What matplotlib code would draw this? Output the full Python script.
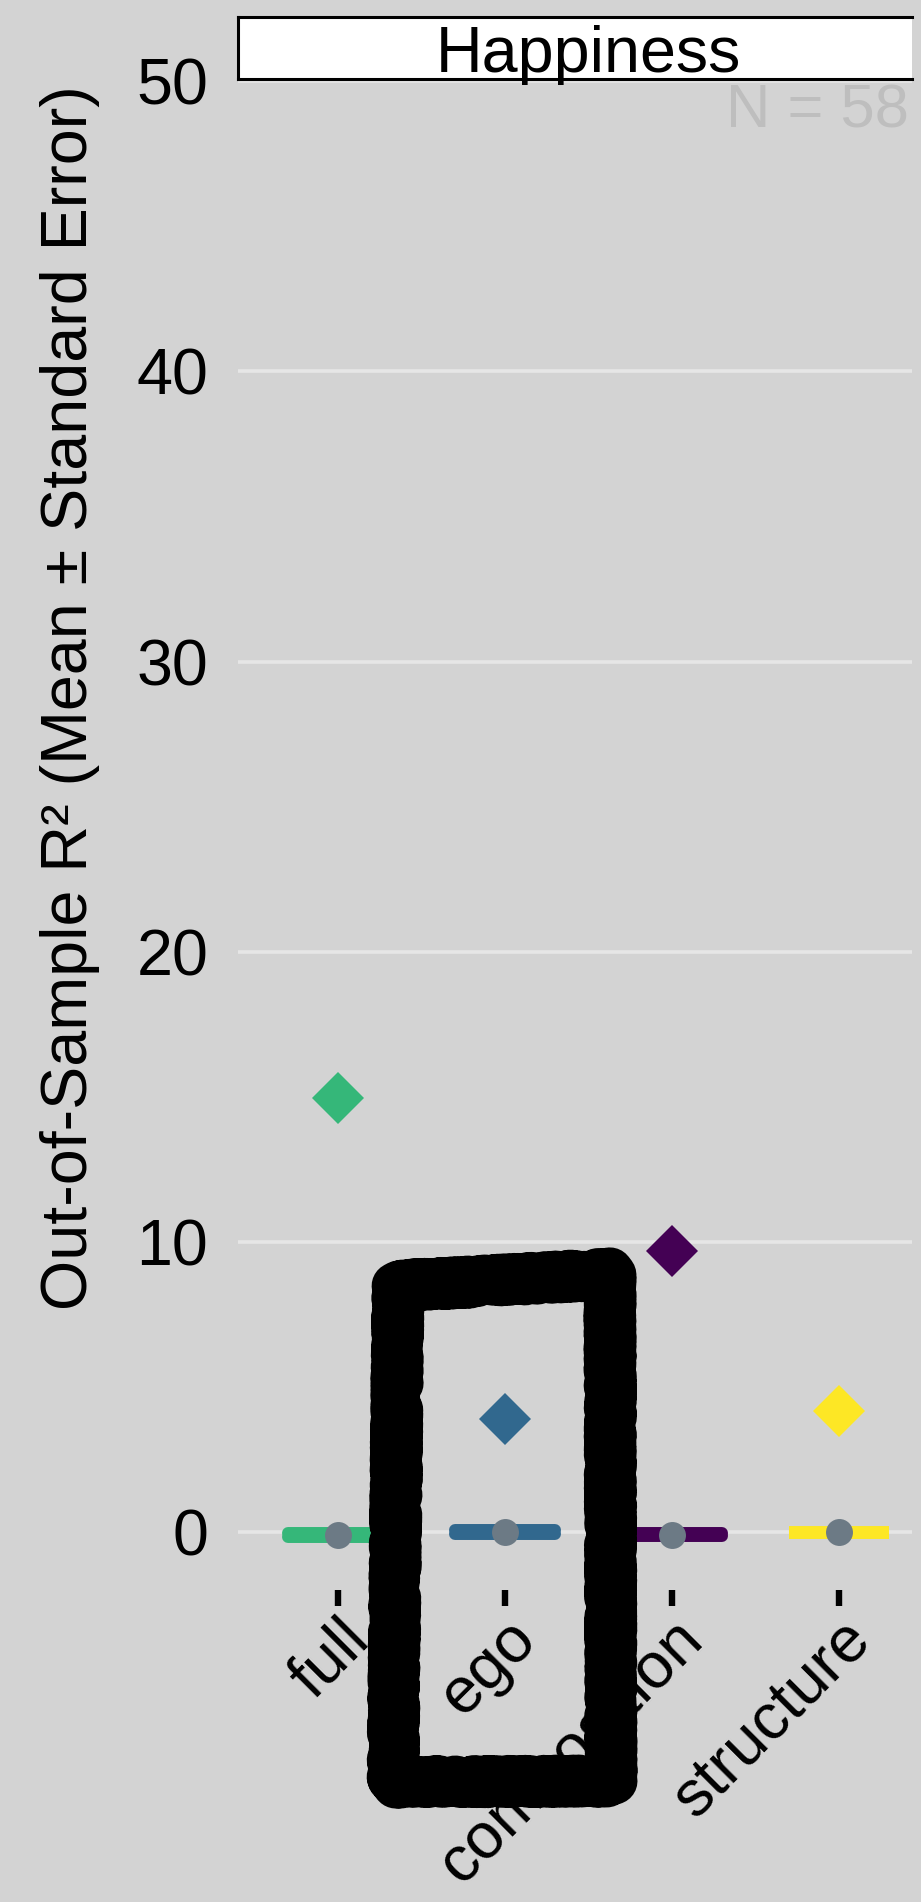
import matplotlib
matplotlib.use("Agg")
import matplotlib.pyplot as plt
from matplotlib.path import Path
from matplotlib.patches import PathPatch
import numpy as np

plt.rcParams['font.family'] = ['Liberation Sans', 'DejaVu Sans']

# ---- data -------------------------------------------------------------
models = ['full', 'ego', 'composition', 'structure']
model_colors = ['#35B779', '#31688E', '#440154', '#FDE725']
oos_mean = [-0.11, 0.0, -0.09, 0.0]          # out-of-sample R2 mean
oos_se = [0.07, 0.07, 0.05, 0.02]            # standard error
insample_r2 = [14.95, 3.91, 9.70, 4.19]      # diamond markers
panel_title = 'Happiness'
n_label = 'N = 581'
y_ticks = [0, 10, 20, 30, 40, 50]
y_label = 'Out-of-Sample R\u00b2 (Mean \u00b1 Standard Error)'

# ---- figure -----------------------------------------------------------
W, H, DPI = 921, 1902, 100
BG = '#D3D3D3'
FS = 46.5
fig = plt.figure(figsize=(W / DPI, H / DPI), dpi=DPI, facecolor=BG)


def px_box(x0, y0, x1, y1):
    return [x0 / W, 1 - y1 / H, (x1 - x0) / W, (y1 - y0) / H]


ax = fig.add_axes(px_box(237.5, 79, 912, 1590))
ax.set_facecolor(BG)
for s in ax.spines.values():
    s.set_visible(False)

x = np.arange(1, len(models) + 1)
ax.set_xlim(0.4, 4.437)
ax.set_ylim(-1.99, 50.07)
ax.set_yticks(y_ticks)
ax.yaxis.grid(True, color='#E6E6E6', linewidth=2.6)
ax.xaxis.grid(False)
ax.set_axisbelow(True)
ax.tick_params(axis='y', length=0, pad=21, labelsize=FS, labelcolor='black')
ax.tick_params(axis='x', length=11.5, width=4.6, color='black', pad=2,
               labelsize=FS)
ax.set_xticks(x)
ax.set_xticklabels(models, rotation=45, ha='right', va='top',
                   rotation_mode='anchor')

# error bars (mean +/- SE), drawn as wide horizontal strokes
half_w = 0.30
for i, (m, se, c) in enumerate(zip(oos_mean, oos_se, model_colors)):
    cap = 'butt' if models[i] == 'structure' else 'round'
    lines = ax.hlines([m - se, m + se], x[i] - half_w, x[i] + half_w,
                      colors=c, linewidth=8.6, zorder=3)
    lines.set_capstyle(cap)
    ax.vlines(x[i], m - se, m + se, colors=c, linewidth=8.6, zorder=3)

ax.plot(x, oos_mean, 'o', ms=19.4, color='#6C7A85', mew=0, zorder=4)

for xi, v, c in zip(x, insample_r2, model_colors):
    ax.plot(xi, v, 'D', ms=26.5, color=c, mew=0, zorder=4)

ax.text(4.62, 48.41, n_label, ha='right', va='baseline', color='#BEBEBE',
        fontsize=44.3, clip_on=True, zorder=5)

# facet strip
sax = fig.add_axes(px_box(237.5, 17, 912, 79))
sax.set_facecolor('white')
sax.set_xlim(ax.get_xlim())
sax.set_ylim(0, 1)
sax.set_xticks([])
sax.set_yticks([])
for side in ['top', 'bottom', 'left']:
    sax.spines[side].set_linewidth(2.2)
    sax.spines[side].set_color('black')
sax.spines['right'].set_visible(False)
sax.text(2.5, 7 / 62, panel_title, ha='center', va='baseline',
         fontsize=FS, color='black')

fig.text(70.5 / W, 1 - 698 / H, y_label, rotation=90, ha='center',
         va='center', fontsize=FS, color='black')

# hand-drawn highlight box around the "ego" column
corners_px = [(398, 1286), (610, 1274), (611, 1781), (393, 1782),
              (398, 1286), (470, 1282)]
verts = [(px / W, 1 - py / H) for px, py in corners_px]
codes = [Path.MOVETO] + [Path.LINETO] * (len(verts) - 1)
box = PathPatch(Path(verts, codes), facecolor='none', edgecolor='black',
                linewidth=34, joinstyle='round', capstyle='round',
                transform=fig.transFigure, zorder=10)
box.set_sketch_params(scale=3, length=8, randomness=10)
fig.add_artist(box)

fig.savefig('out.png', dpi=DPI, facecolor=BG)
